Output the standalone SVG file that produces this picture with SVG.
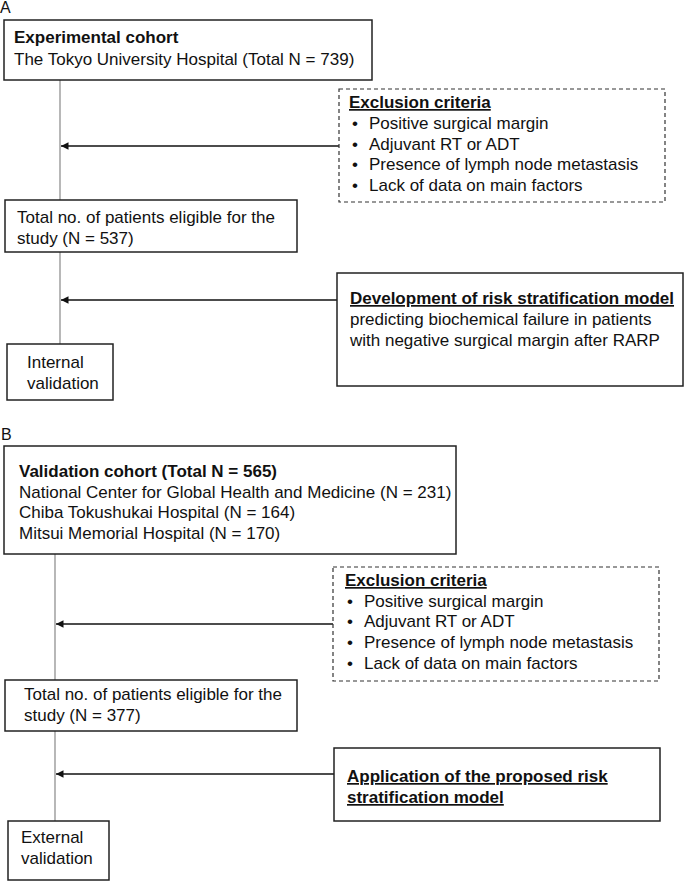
<svg xmlns="http://www.w3.org/2000/svg" width="685" height="881" viewBox="0 0 685 881">
<style>
text{font-family:"Liberation Sans",Arial,sans-serif;font-size:17px;fill:#111}
.b{font-weight:bold}
.u{text-decoration:underline}
.box{fill:#fff;stroke:#222;stroke-width:1.5}
.dash{fill:#fff;stroke:#333;stroke-width:1.2;stroke-dasharray:4 3}
.v{stroke:#888;stroke-width:1.2;fill:none}
.a{stroke:#111;stroke-width:1.5;fill:none;marker-end:url(#ah)}
.lbl{font-size:16px}
</style>
<defs>
<marker id="ah" viewBox="0 0 10 10" refX="10" refY="5" markerWidth="5" markerHeight="5" markerUnits="strokeWidth" orient="auto">
<path d="M0,0 L10,5 L0,10 z" fill="#111"/>
</marker>
</defs>
<rect width="685" height="881" fill="#fff"/>
<text class="lbl" x="0" y="13">A</text>
<text class="lbl" x="1" y="440">B</text>
<g id="connectors">
<line class="v" x1="60" y1="80" x2="60" y2="200"/>
<line class="v" x1="60" y1="252" x2="60" y2="344"/>
<line class="a" x1="339" y1="146" x2="61" y2="146"/>
<line class="a" x1="337" y1="300" x2="61" y2="300"/>
<line class="v" x1="55" y1="554" x2="55" y2="680"/>
<line class="v" x1="55" y1="731" x2="55" y2="821"/>
<line class="a" x1="333" y1="624" x2="56" y2="624"/>
<line class="a" x1="334" y1="774" x2="56" y2="774"/>
</g>
<g id="experimental">
<rect class="box" x="4" y="20" width="368" height="60"/>
<text class="b" x="14" y="43">Experimental cohort</text>
<text x="14" y="65">The Tokyo University Hospital (Total N = 739)</text>
</g>
<g id="exclusionA">
<rect class="dash" x="339" y="89" width="326" height="113"/>
<text class="b u" x="349" y="108">Exclusion criteria</text>
<text x="352" y="129">•</text><text x="369" y="129">Positive surgical margin</text>
<text x="352" y="150">•</text><text x="369" y="150">Adjuvant RT or ADT</text>
<text x="352" y="170">•</text><text x="369" y="170">Presence of lymph node metastasis</text>
<text x="352" y="191">•</text><text x="369" y="191">Lack of data on main factors</text>
</g>
<g id="eligibleA">
<rect class="box" x="5" y="200" width="292" height="52"/>
<text x="17" y="223">Total no. of patients eligible for the</text>
<text x="17" y="244">study (N = 537)</text>
</g>
<g id="development">
<rect class="box" x="337" y="273" width="346" height="113"/>
<text class="b u" x="350" y="304">Development of risk stratification model</text>
<text x="350" y="325">predicting biochemical failure in patients</text>
<text x="350" y="346">with negative surgical margin after RARP</text>
</g>
<g id="internal">
<rect class="box" x="7" y="344" width="106" height="56"/>
<text x="27" y="368">Internal</text>
<text x="27" y="389">validation</text>
</g>
<g id="validation">
<rect class="box" x="4" y="446" width="452" height="108"/>
<text class="b" x="19" y="477">Validation cohort (Total N = 565)</text>
<text x="19" y="498">National Center for Global Health and Medicine (N = 231)</text>
<text x="19" y="518">Chiba Tokushukai Hospital (N = 164)</text>
<text x="19" y="539">Mitsui Memorial Hospital (N = 170)</text>
</g>
<g id="exclusionB">
<rect class="dash" x="333" y="567" width="326" height="114"/>
<text class="b u" x="345" y="586">Exclusion criteria</text>
<text x="347" y="607">•</text><text x="364" y="607">Positive surgical margin</text>
<text x="347" y="627">•</text><text x="364" y="627">Adjuvant RT or ADT</text>
<text x="347" y="648">•</text><text x="364" y="648">Presence of lymph node metastasis</text>
<text x="347" y="669">•</text><text x="364" y="669">Lack of data on main factors</text>
</g>
<g id="eligibleB">
<rect class="box" x="5" y="680" width="292" height="51"/>
<text x="24" y="700">Total no. of patients eligible for the</text>
<text x="24" y="721">study (N = 377)</text>
</g>
<g id="application">
<rect class="box" x="334" y="748" width="326" height="73"/>
<text class="b u" x="347" y="782">Application of the proposed risk</text>
<text class="b u" x="347" y="803">stratification model</text>
</g>
<g id="external">
<rect class="box" x="8" y="821" width="101" height="59"/>
<text x="21" y="843">External</text>
<text x="21" y="864">validation</text>
</g>
</svg>
